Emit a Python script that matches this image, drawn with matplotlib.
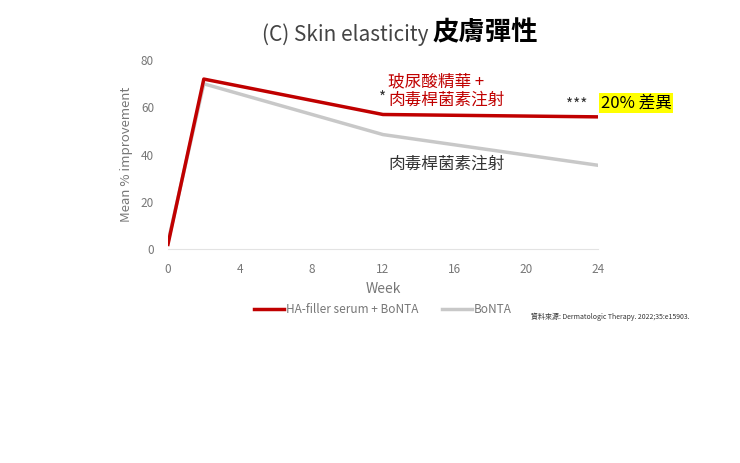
import matplotlib
matplotlib.use("Agg")
import matplotlib.pyplot as plt

weeks = [0, 2, 12, 24]
ha_bonta = [2, 72, 57, 56]
bonta = [3, 70, 48.5, 35.5]
xticks = [0, 4, 8, 12, 16, 20, 24]
yticks = [0, 20, 40, 60, 80]

plt.rcParams['font.family'] = ['Noto Sans CJK TC', 'DejaVu Sans']
fig = plt.figure(figsize=(7.4, 4.63), dpi=100)
ax = fig.add_axes([0.227, 0.462, 0.581, 0.408])
ax.plot(weeks, bonta, color='#c8c8c8', lw=2.5, label='BoNTA', zorder=2)
ax.plot(weeks, ha_bonta, color='#c00000', lw=2.5, label='HA-filler serum + BoNTA', zorder=3)
ax.set_xlim(0, 24)
ax.set_ylim(0, 80)
ax.set_xticks(xticks)
ax.set_yticks(yticks)
ax.tick_params(length=0, colors='#777777', labelsize=8.5)
ax.tick_params(axis='x', pad=10)
ax.tick_params(axis='y', pad=10)
for s in ['top', 'right', 'left']:
    ax.spines[s].set_visible(False)
ax.spines['bottom'].set_color('#e3e3e3')
ax.set_xlabel('Week', color='#777777', fontsize=10, labelpad=4)
ax.set_ylabel('Mean % improvement', color='#777777', fontsize=9.5, labelpad=6)
h, l = ax.get_legend_handles_labels()
ax.legend(h[::-1], l[::-1], loc='upper center', bbox_to_anchor=(0.5, -0.23), ncol=2, frameon=False,
          fontsize=8.5, labelcolor='#777777', handlelength=2.5, handletextpad=0.2, columnspacing=2)

fig.text(0.585, 0.925, '(C) Skin elasticity ', ha='right', va='center', fontsize=15, color='#444444')
fig.text(0.585, 0.928, '皮膚彈性', ha='left', va='center', fontsize=19, fontweight='bold', color='black')
ax.text(12.3, 67, '玻尿酸精華 +\n肉毒桿菌素注射', color='#c00000', fontsize=12, va='center', linespacing=1.05)
ax.text(12.3, 36, '肉毒桿菌素注射', color='#333333', fontsize=12, va='center')
ax.text(0.1, 0.0, '', transform=ax.transAxes)
ax.text(12.0, 62, '*', color='#333333', fontsize=11, ha='center')
ax.text(22.8, 59, '***', color='#333333', fontsize=11, ha='center')
ax.text(24.15, 62, '20% 差異', color='black', fontsize=12, va='center',
        bbox=dict(facecolor='#ffff00', edgecolor='none', pad=1))
fig.text(0.932, 0.312, '資料來源: Dermatologic Therapy. 2022;35:e15903.', ha='right', fontsize=5, color='#333333')
fig.savefig('out.png', dpi=100)
